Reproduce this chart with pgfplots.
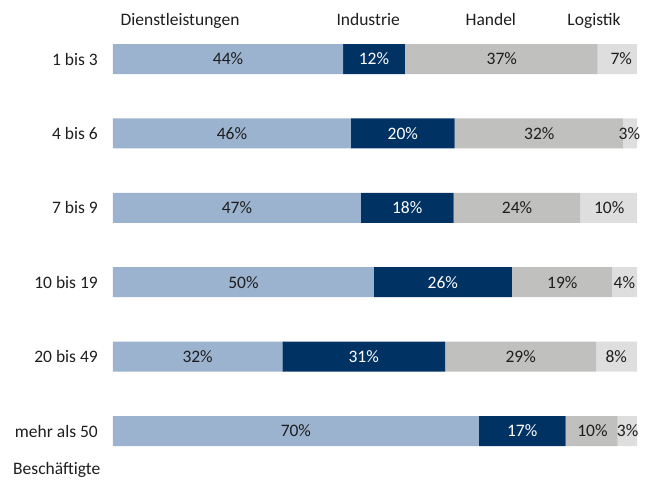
\documentclass[border=0pt]{standalone}
\usepackage{fontspec}
\setmainfont{Carlito}
\usepackage{pgfplots}
\pgfplotsset{compat=1.18}
\usepackage{pgfplotstable}
\definecolor{cdl}{HTML}{9BB3CF}
\definecolor{cind}{HTML}{003263}
\definecolor{chan}{HTML}{C0C0BF}
\definecolor{clog}{HTML}{DEDEDE}
\definecolor{ctxt}{HTML}{1E1E1E}
% segment widths (percent of the bar)
\pgfplotstableread{
y dv iv hv lv
0 43.9 11.8 36.8 7.5
1 45.4 19.8 32.1 2.7
2 47.3 17.7 24.2 10.8
3 49.8 26.3 19.1 4.8
4 32.3 31.1 28.8 7.8
5 69.8 16.6 9.9 3.7
}\data
% label positions (segment centres) and printed labels
\pgfplotstableread{
y dc dl ic il hc hl lc ll
0 21.95 44 49.80 12 74.20 37 97.00 7
1 22.70 46 55.30 20 81.35 32 98.55 3
2 23.65 47 56.15 18 77.10 24 94.70 10
3 24.90 50 62.95 26 85.75 19 97.60 4
4 16.15 32 47.85 31 77.80 29 96.05 8
5 34.90 70 78.10 17 91.50 10 98.20 3
}\labels
\newcommand{\lf}{\fontsize{17.5}{20}\selectfont}
\begin{document}
\begin{tikzpicture}
\begin{axis}[
  at={(0,0)}, anchor=south west,
  scale only axis, width=524pt, height=446.4pt,
  xbar stacked, bar width=30pt,
  xmin=0, xmax=100, ymin=-0.5, ymax=5.5, y dir=reverse,
  clip=false,
  axis line style={draw=none},
  major tick length=0pt,
  xtick=\empty,
  ytick={0,1,2,3,4,5},
  yticklabels={1 bis 3,4 bis 6,7 bis 9,10 bis 19,20 bis 49,mehr als 50},
  yticklabel style={font=\lf, text=ctxt, inner sep=0pt, xshift=-15pt},
]
\addplot[fill=cdl, draw=none] table[x=dv, y=y] {\data};
\addplot[fill=cind, draw=none] table[x=iv, y=y] {\data};
\addplot[fill=chan, draw=none] table[x=hv, y=y] {\data};
\addplot[fill=clog, draw=none] table[x=lv, y=y] {\data};
\node[anchor=base, font=\lf, text=ctxt, inner sep=0pt] at (axis cs:12.8,-0.444) {Dienstleistungen};
\node[anchor=base, font=\lf, text=ctxt, inner sep=0pt] at (axis cs:48.7,-0.444) {Industrie};
\node[anchor=base, font=\lf, text=ctxt, inner sep=0pt] at (axis cs:72.1,-0.444) {Handel};
\node[anchor=base, font=\lf, text=ctxt, inner sep=0pt] at (axis cs:91.8,-0.444) {Logistik};
\node[anchor=base west, font=\lf, text=ctxt, inner sep=0pt, xshift=-100pt] at (axis cs:0,5.578) {Beschäftigte};
\end{axis}
\begin{axis}[
  at={(0,0)}, anchor=south west,
  scale only axis, width=524pt, height=446.4pt,
  xmin=0, xmax=100, ymin=-0.5, ymax=5.5, y dir=reverse,
  hide axis, clip=false,
  point meta=explicit symbolic,
  nodes near coords={\pgfplotspointmeta\%},
  every node near coord/.append style={anchor=center, font=\lf, inner sep=0pt},
]
\addplot[only marks, mark=none, nodes near coords style={text=ctxt}] table[x=dc, y=y, meta=dl] {\labels};
\addplot[only marks, mark=none, nodes near coords style={text=white}] table[x=ic, y=y, meta=il] {\labels};
\addplot[only marks, mark=none, nodes near coords style={text=ctxt}] table[x=hc, y=y, meta=hl] {\labels};
\addplot[only marks, mark=none, nodes near coords style={text=ctxt}] table[x=lc, y=y, meta=ll] {\labels};
\end{axis}
\pgfresetboundingbox
\useasboundingbox (-113pt,-13pt) rectangle (544pt,468.2pt);
\end{tikzpicture}
\end{document}
